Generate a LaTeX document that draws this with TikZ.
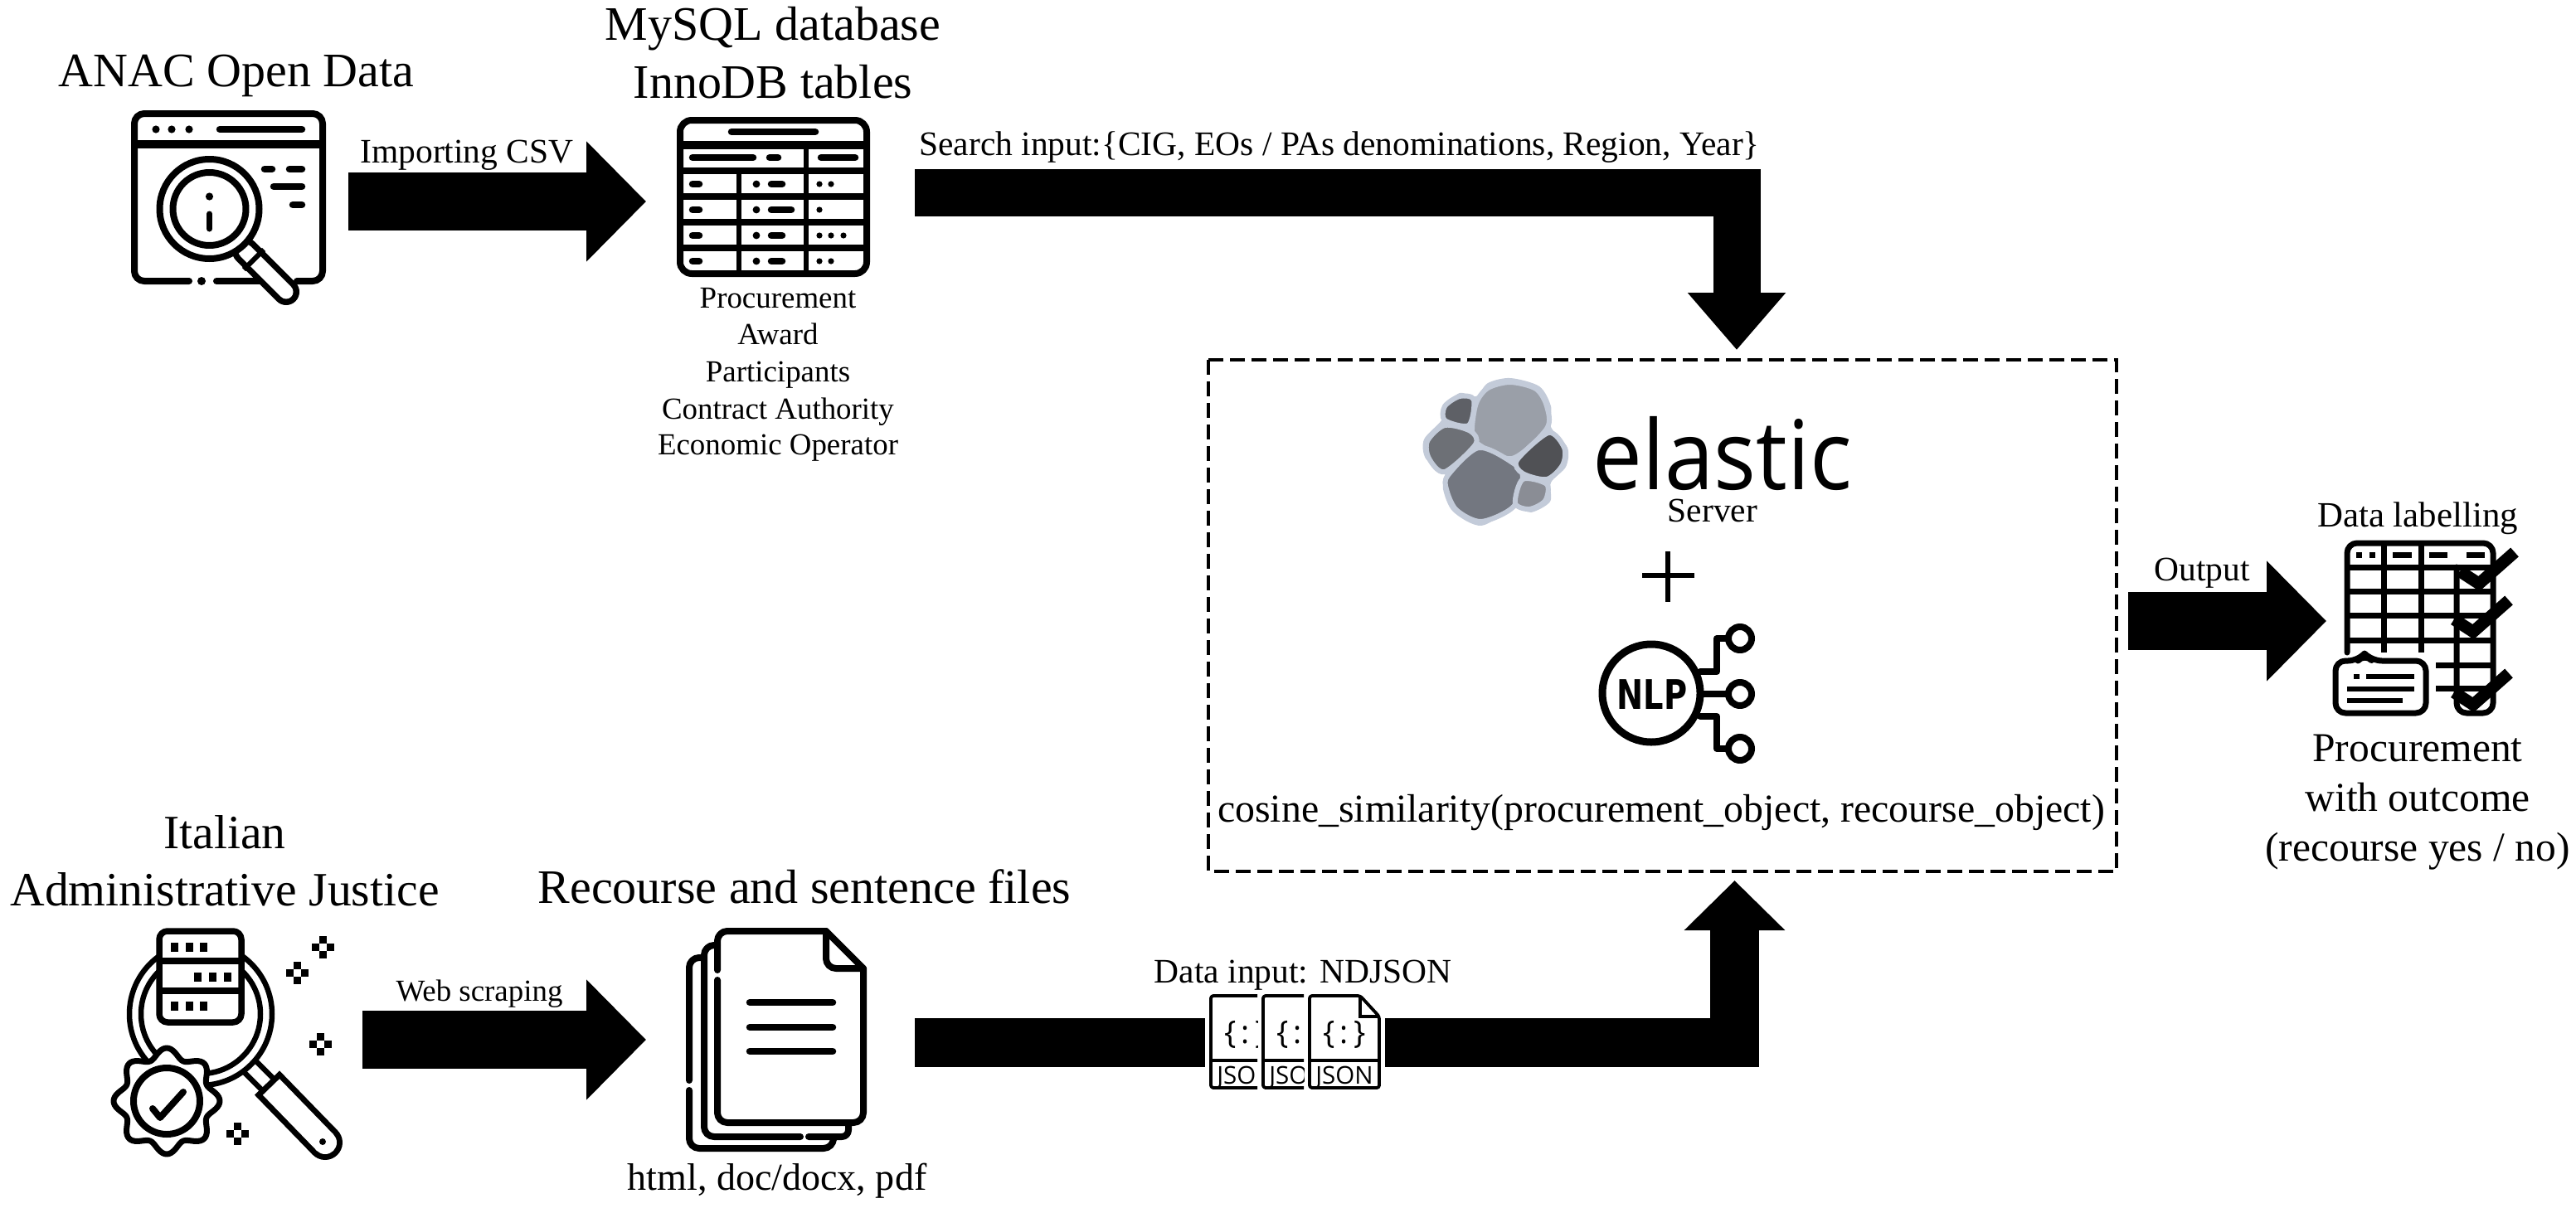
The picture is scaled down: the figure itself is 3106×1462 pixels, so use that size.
\documentclass[tikz,border=0pt]{standalone}
\usepackage{fontspec}
\setmainfont{Liberation Serif}
\newfontfamily\elasticfont{Open Sans}
\newfontfamily\nlpfont{DejaVu Sans}
\usetikzlibrary{arrows.meta}
\newcommand{\fsz}[1]{\fontsize{#1}{#1}\selectfont}
\definecolor{elasticedge}{HTML}{C3CBD9}
\definecolor{petalA}{RGB}{154,159,168}
\definecolor{petalB}{RGB}{94,96,102}
\definecolor{petalC}{RGB}{109,112,118}
\definecolor{petalD}{RGB}{115,119,128}
\definecolor{petalE}{RGB}{80,81,85}
\definecolor{petalF}{RGB}{138,141,149}
\tikzset{
  txt/.style={inner sep=0pt,anchor=base,text=black},
  big/.style={txt,font=\fsz{16.5pt}},
  med/.style={txt,font=\fsz{11.8pt}},
  small/.style={txt,font=\fsz{10.5pt}},
  ico/.style={draw=black,line width=.8mm,line cap=round,line join=round},
  bar/.style={draw=black,line width=.85mm,line cap=round},
  blockarrow/.style={draw=black,line width=7mm,line join=miter,
     -{Triangle[length=7.2mm,width=14.1mm]}},
  petal/.style={draw=elasticedge,line width=.6mm,fill=#1},
}
\begin{document}
\begin{tikzpicture}[x=.1mm,y=-.1mm]
\useasboundingbox[fill=white] (0,0) rectangle (3106,1462);

%%% block-arrow anchors
\coordinate (anacR) at (420,243);
\coordinate (dbL) at (779,243);
\coordinate (dbR) at (1103,232.5);
\coordinate (boxTopCorner) at (2094,232.5);
\coordinate (boxTop) at (2094,422);
\coordinate (justR) at (437,1254);
\coordinate (docL) at (779,1254);
\coordinate (docR) at (1103,1257.5);
\coordinate (jsonL) at (1453,1257.5);
\coordinate (jsonR) at (1670,1257.5);
\coordinate (boxBotCorner) at (2091.5,1257.5);
\coordinate (boxBot) at (2091.5,1062);
\coordinate (boxR) at (2566,749);
\coordinate (tblL) at (2805,749);

\draw[blockarrow] (anacR) -- (dbL);
\draw[blockarrow,line width=5.7mm,-{Triangle[length=6.9mm,width=11.4mm]}] (dbR) -- (boxTopCorner) -- (boxTop);
\draw[blockarrow] (justR) -- (docL);
\draw[draw=black,line width=5.9mm] (docR) -- (jsonL);
\draw[blockarrow,line width=5.9mm,-{Triangle[length=6mm,width=11.8mm]}] (jsonR) -- (boxBotCorner) -- (boxBot);
\draw[blockarrow] (boxR) -- (tblL);

%%% texts
\node[big] (anac) at (285,105) {ANAC Open Data};
\node[txt,font=\fsz{16.5pt}] (mysql) at (932,48) {MySQL database};
\node[txt,font=\fsz{16.5pt}] (inno) at (932,118) {InnoDB tables};
\node[med] (csv) at (563,196) {Importing CSV};
\node[med] (search) at (1615,187) {Search input:\{CIG, EOs / PAs denominations, Region, Year\}};
\node[small] (t1) at (938,371) {Procurement};
\node[small] (t2) at (938,415) {Award};
\node[small] (t3) at (938,460) {Participants};
\node[small] (t4) at (938,505) {Contract Authority};
\node[small] (t5) at (938,548) {Economic Operator};
\node[txt,font=\fsz{16.4pt}] (ital) at (271,1023) {Italian};
\node[txt,font=\fsz{16.4pt}] (adm) at (271,1092) {Administrative Justice};
\node[txt,font=\fsz{16.5pt}] (rec) at (970,1089) {Recourse and sentence files};
\node[txt,font=\fsz{13.1pt}] (html) at (937,1435) {html, doc/docx, pdf};
\node[small] (web) at (578,1207) {Web scraping};
\node[txt,font=\fsz{11.8pt}] (ndj) at (1571,1185) {Data input: NDJSON};
\node[med] (server) at (2065,629) {Server};
\node[txt,font=\fsz{13.6pt}] (cos) at (2003,991) {cosine\_similarity(procurement\_object, recourse\_object)};
\node[med] (out) at (2655,700) {Output};
\node[txt,font=\fsz{12.2pt}] (lab) at (2915,635) {Data labelling};
\node[txt,font=\fsz{14.1pt}] (p1) at (2915,918) {Procurement};
\node[txt,font=\fsz{14.1pt}] (p2) at (2915,978) {with outcome};
\node[txt,font=\fsz{14.1pt}] (p3) at (2915,1038) {(recourse yes / no)};
\node[txt,font={\elasticfont\fsz{33pt}}] (elastic) at (2077,590) {\scalebox{.92}[1]{elastic}};

%%% dashed box
\draw[black,line width=.4mm,dash pattern=on 1.8mm off .8mm] (1457,434) rectangle (2552,1051);

%%% plus
\draw[black,line width=.6mm] (1980,694) -- (2043,694) (2011,665) -- (2011,726);

%%% elastic logo
\fill[elasticedge] plot[smooth cycle,tension=.5] coordinates {(1742,490)(1760,474)(1780,478)(1794,462)(1821,456)(1856,466)(1870,490)(1870,515)(1890,540)(1888,563)(1870,582)(1869,605)(1846,618)(1826,612)(1786,634)(1752,617)(1740,590)(1742,570)(1719,553)(1717,530)(1738,507)};
\filldraw[petal=petalA] plot[smooth cycle,tension=.5] coordinates {(1780,486)(1794,468)(1821,461)(1852,469)(1865,490)(1865,517)(1823,553)(1780,534)(1775,517)};
\filldraw[petal=petalB] plot[smooth cycle,tension=.5] coordinates {(1742,507)(1742,490)(1760,478)(1777,482)(1771,513)};
\filldraw[petal=petalC] plot[smooth cycle,tension=.5] coordinates {(1742,513)(1773,520)(1779,536)(1742,569)(1723,553)(1721,532)};
\filldraw[petal=petalD] plot[smooth cycle,tension=.5] coordinates {(1783,540)(1825,559)(1836,575)(1825,611)(1786,629)(1756,615)(1744,590)(1746,573)};
\filldraw[petal=petalE] plot[smooth cycle,tension=.5] coordinates {(1867,522)(1886,540)(1884,561)(1865,578)(1836,571)(1829,555)};
\filldraw[petal=petalF] plot[smooth cycle,tension=.5] coordinates {(1836,578)(1865,584)(1863,604)(1844,614)(1827,607)};

%%% NLP icon
\draw[ico,line width=.9mm] (1991,836) circle[radius=59];
\node[txt,font={\nlpfont\bfseries\fsz{14pt}}] (nlp) at (1992,855) {\scalebox{.78}[1]{NLP}};
\draw[ico] (2050,810) -- (2070,810) -- (2070,770) -- (2085,770);
\draw[ico] (2054,837) -- (2085,837);
\draw[ico] (2050,864) -- (2070,864) -- (2070,903) -- (2085,903);
\foreach \yy in {770,837,903} \draw[ico,fill=white] (2098,\yy) circle[radius=14];

%%% icon 1: window with magnifier
\draw[ico,rounded corners=1.2mm] (228,339) -- (162,339) -- (162,137) -- (389,137) -- (389,339) -- (358,339);
\draw[ico] (261,339) -- (320,339);
\fill (243,339) circle[radius=5];
\draw[black,line width=1mm] (162,174) -- (389,174);
\foreach \xx in {188,207,228} \fill (\xx,156) circle[radius=4.6];
\draw[bar] (265,156) -- (364,156);
\draw[bar] (319,204) -- (328,204) (349,204) -- (364,204);
\draw[bar] (330,225) -- (364,225);
\draw[bar] (353,247) -- (364,247);
\draw[black,line width=3.2mm,line cap=round] (296,303) -- (345,352);
\draw[white,line width=1.7mm,line cap=round] (296,303) -- (345,352);
\draw[black,line width=.6mm] (294,325) -- (318,301);
\draw[ico,fill=white] (252.5,252) circle[radius=60];
\draw[ico] (252.5,252) circle[radius=44];
\fill (252.5,237) circle[radius=4.6];
\draw[ico,line width=.7mm] (252.5,258) -- (252.5,276);

%%% icon 2: table
\draw[ico,rounded corners=1.4mm] (820,145) rectangle (1045,330);
\draw[bar] (882,159) -- (983,159);
\draw[black,line width=1mm] (820,175) -- (1045,175);
\foreach \yy in {206,237,268,299} \draw[black,line width=.8mm] (820,\yy) -- (1045,\yy);
\draw[black,line width=.6mm] (972,175) -- (972,330) (891,206) -- (891,330);
\draw[bar] (835,190) -- (908,190) (928,190) -- (938,190) (990,190) -- (1031,190);
\foreach \yy in {222,253,284,315} {
  \draw[bar] (835,\yy) -- (843,\yy);
  \fill (912,\yy) circle[radius=4.4];
}
\foreach \yy in {222,284,315} \draw[bar] (930,\yy) -- (943,\yy);
\draw[bar] (930,253) -- (954,253);
\foreach \xx/\yy in {988/222,1002/222,988/253,988/284,1002/284,1017/284,988/315,1002/315} \fill (\xx,\yy) circle[radius=3.6];

%%% icon 3: magnifier, servers, gear
\draw[black,line width=2.6mm] (298,1283) -- (325,1310);
\draw[white,line width=1.3mm] (298,1283) -- (325,1310);
\draw[black,line width=4.2mm] (322,1306) -- (392,1378);
\fill (392,1378) circle[radius=21];
\draw[white,line width=2.8mm] (327,1311) -- (392,1378);
\fill[white] (392,1378) circle[radius=14];
\fill (389,1377) circle[radius=4];
\draw[black,line width=.65mm,fill=white] (242,1223) circle[radius=86];
\draw[black,line width=.65mm] (242,1223) circle[radius=72];
\draw[ico,line width=.75mm,fill=white,rounded corners=1mm] (192,1123) rectangle (291,1233);
\draw[black,line width=.8mm] (192,1159) -- (291,1159) (192,1195) -- (291,1195);
\foreach \xx/\yy in {210/1142,228/1142,245/1142,238/1178,256/1178,274/1178,210/1213,228/1213,245/1213}
  \fill (\xx-4.5,\yy-5.5) rectangle (\xx+4.5,\yy+5.5);
\draw[ico,line width=.7mm,fill=white] plot[domain=0:360,samples=161,smooth] ({201+(58+6*cos(8*\x))*cos(\x)},{1328+(58+6*cos(8*\x))*sin(\x)}) -- cycle;
\draw[ico] (201,1328) circle[radius=40];
\draw[ico] (184,1337) -- (193,1348) -- (221,1317);
\foreach \xx/\yy in {389/1142,358/1173,386/1259,286/1367} {
  \fill (\xx-4.5,\yy-13.5) rectangle (\xx+4.5,\yy-4.5);
  \fill (\xx-4.5,\yy+4.5) rectangle (\xx+4.5,\yy+13.5);
  \fill (\xx-13.5,\yy-4.5) rectangle (\xx-4.5,\yy+4.5);
  \fill (\xx+4.5,\yy-4.5) rectangle (\xx+13.5,\yy+4.5);
}

%%% icon 4: documents
\draw[ico,rounded corners=1.2mm] (848,1155) -- (831,1155) -- (831,1303);
\draw[ico,rounded corners=1.2mm] (831,1315) -- (831,1385) -- (1005,1385) -- (1005,1375);
\draw[ico,rounded corners=1.2mm] (865,1140) -- (849,1140) -- (849,1371) -- (965,1371);
\draw[ico,rounded corners=.8mm] (975,1371) -- (1023,1371) -- (1023,1358);
\draw[ico,rounded corners=1.2mm] (865,1170) -- (865,1123) -- (996,1123);
\draw[ico,rounded corners=1.2mm] (865,1182) -- (865,1354) -- (1041,1354) -- (1041,1168);
\draw[ico] (996,1123) -- (1041,1168);
\draw[ico,rounded corners=1.2mm] (996,1123) -- (996,1168) -- (1041,1168);
\foreach \yy in {1209,1239,1268} \draw[bar] (904,\yy) -- (1004,\yy);

%%% icon 5: JSON files
\foreach \ll/\cw/\nn in {1458/58/a,1521/51/b,1577/90/c} {
\begin{scope}[shift={(\ll,0)}]
  \clip (-1,1196) rectangle (\cw,1317);
  \draw[black,line width=.38mm,line join=round,rounded corners=.3mm] (2,1201) -- (63,1201) -- (86,1226) -- (86,1312) -- (2,1312) -- cycle;
  \draw[black,line width=.38mm] (63,1201) -- (63,1226) -- (86,1226);
  \draw[black,line width=.45mm] (2,1279) -- (86,1279);
  \node[txt,font={\elasticfont\fsz{10.8pt}}] (brace\nn) at (44,1258) {\{\,:\,\}};
  \node[txt,font={\elasticfont\fsz{8.4pt}}] (js\nn) at (44,1307) {JSON};
\end{scope}
}

%%% icon 6: labelled table
\draw[ico,line width=.7mm,rounded corners=1.2mm] (2830,787) -- (2830,655) -- (3006,655) -- (3006,860) -- (2962,860) -- (2962,684);
\draw[black,line width=.7mm] (2874,655) -- (2874,787) (2919,655) -- (2919,787);
\foreach \yy in {684,713,742,772} \draw[black,line width=.7mm] (2830,\yy) -- (3006,\yy);
\foreach \yy in {802,830} \draw[black,line width=.7mm] (2937,\yy) -- (3006,\yy);
\draw[black,line width=.7mm] (2841,669) -- (2848,669) (2857,669) -- (2864,669) (2885,669) -- (2908,669) (2929,669) -- (2951,669) (2974,669) -- (2996,669);
\foreach \dx/\dy in {0/0,-7/58,-7/146}
  \draw[black,line width=1.45mm,line join=miter] (2966+\dx,689+\dy) -- (2989+\dx,704+\dy) -- (3032+\dx,666+\dy);
\draw[ico,line width=.7mm,fill=white,rounded corners=1.2mm] (2816,797) -- (2843,797) -- (2851,788) -- (2860,797) -- (2925,797) -- (2925,860) -- (2816,860) -- cycle;
\draw[black,line width=.6mm] (2838,816) -- (2845,816) (2853,816) -- (2911,816) (2830,831) -- (2911,831) (2830,845) -- (2897,845);
\end{tikzpicture}
\end{document}
